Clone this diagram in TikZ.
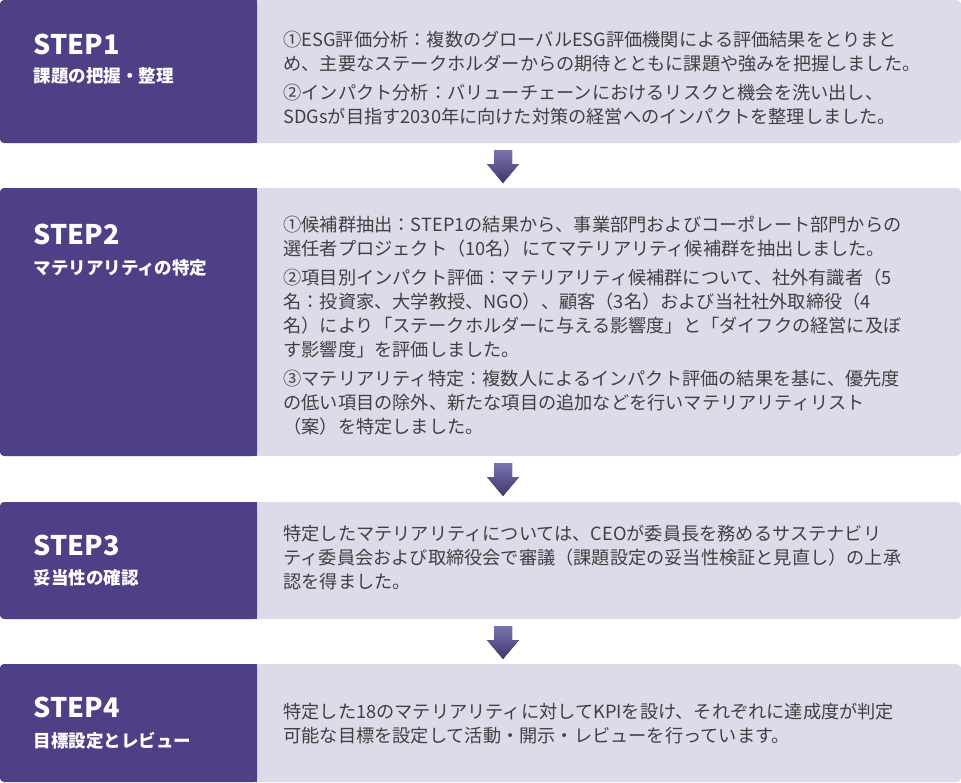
\documentclass[tikz,border=0pt]{standalone}
\usepackage{fontspec}
\setmainfont{Noto Sans CJK JP}
\usepackage{tikz}
\usetikzlibrary{positioning,calc}
\definecolor{stepdark}{HTML}{4F3F86}
\definecolor{steplight}{HTML}{DDDBEA}
\definecolor{bodygray}{HTML}{404040}
\definecolor{arrowtop}{HTML}{7A74AE}
\definecolor{arrowbot}{HTML}{40366F}
\tikzset{
  rowbox/.style={fill=steplight,rounded corners=4pt},
  headbox/.style={fill=stepdark,rounded corners=4pt},
  steptitle/.style={anchor=west,text=white,font=\fontsize{27}{30}\selectfont\bfseries},
  stepsub/.style={anchor=west,text=white,font=\fontsize{17.5}{20}\selectfont\bfseries},
  bodytext/.style={anchor=west,align=left,text=bodygray,font=\fontsize{18.2}{24}\selectfont},
  downarrow/.style={top color=arrowtop,bottom color=arrowbot,draw=none}
}
\newcommand{\steprow}[2]{%
  \fill[rowbox] (0,#1) rectangle (961,#2);
  \fill[headbox] (0,#1) rectangle (257,#2);
  \fill[stepdark] (250,#1) rectangle (257,#2);
}
\newcommand{\downarrowat}[1]{%
  \fill[downarrow] (494,#1) -- (512,#1) -- (512,#1+14) -- (519,#1+14)
    -- (503,#1+33) -- (487,#1+14) -- (494,#1+14) -- cycle;
}
\begin{document}
\begin{tikzpicture}[x=1pt,y=-1pt]
\useasboundingbox (0,0) rectangle (961,782);

% step rows
\steprow{0}{143}
\steprow{188}{456}
\steprow{502}{619}
\steprow{664}{782}

\node[steptitle] (s1t) at (30,44) {STEP1};
\node[steptitle] (s2t) at (30,234) {STEP2};
\node[steptitle] (s3t) at (30,545) {STEP3};
\node[steptitle] (s4t) at (30,707) {STEP4};

\node[stepsub] (s1s) at (30,76) {課題の把握・整理};
\node[stepsub] (s2s) at (30,268) {マテリアリティの特定};
\node[stepsub] (s3s) at (30,578) {妥当性の確認};
\node[stepsub] (s4s) at (30,741) {目標設定とレビュー};

% body texts
\node[bodytext] (b1) at (280,78) {①ESG評価分析：複数のグローバルESG評価機関による評価結果をとりまと\\
め、主要なステークホルダーからの期待とともに課題や強みを把握しました。\\[5pt]
②インパクト分析：バリューチェーンにおけるリスクと機会を洗い出し、\\
SDGsが目指す2030年に向けた対策の経営へのインパクトを整理しました。};

\node[bodytext] (b2) at (280,326) {①候補群抽出：STEP1の結果から、事業部門およびコーポレート部門からの\\
選任者プロジェクト（10名）にてマテリアリティ候補群を抽出しました。\\[5pt]
②項目別インパクト評価：マテリアリティ候補群について、社外有識者（5\\
名：投資家、大学教授、NGO）、顧客（3名）および当社社外取締役（4\\
名）により「ステークホルダーに与える影響度」と「ダイフクの経営に及ぼ\\
す影響度」を評価しました。\\[5pt]
③マテリアリティ特定：複数人によるインパクト評価の結果を基に、優先度\\
の低い項目の除外、新たな項目の追加などを行いマテリアリティリスト\\
（案）を特定しました。};

\node[bodytext] (b3) at (280,558) {特定したマテリアリティについては、CEOが委員長を務めるサステナビリ\\
ティ委員会および取締役会で審議（課題設定の妥当性検証と見直し）の上承\\
認を得ました。};

\node[bodytext] (b4) at (280,724) {特定した18のマテリアリティに対してKPIを設け、それぞれに達成度が判定\\
可能な目標を設定して活動・開示・レビューを行っています。};

% arrows between steps
\downarrowat{150}
\downarrowat{463}
\downarrowat{626}

\end{tikzpicture}
\end{document}
